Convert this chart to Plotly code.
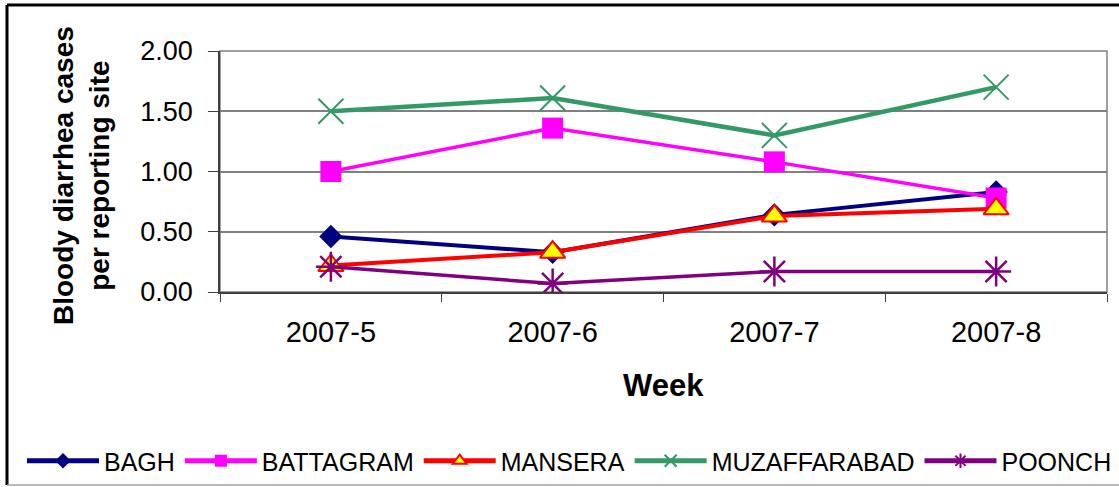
import plotly.graph_objects as go

weeks = ["2007-5", "2007-6", "2007-7", "2007-8"]
bagh = [0.46, 0.33, 0.64, 0.83]
battagram = [1.00, 1.36, 1.08, 0.78]
mansera = [0.22, 0.33, 0.63, 0.69]
muzaffarabad = [1.50, 1.61, 1.30, 1.70]
poonch = [0.21, 0.07, 0.17, 0.17]
y_ticks = [0, 0.5, 1.0, 1.5, 2.0]

FONT = "Liberation Sans, Arial, sans-serif"

fig = go.Figure()
fig.add_trace(go.Scatter(x=weeks, y=bagh, name="BAGH", mode="lines+markers",
                         line=dict(color="#000080", width=4),
                         marker=dict(symbol="diamond", size=18, color="#000080")))
fig.add_trace(go.Scatter(x=weeks, y=battagram, name="BATTAGRAM", mode="lines+markers",
                         line=dict(color="#FF00FF", width=3.5),
                         marker=dict(symbol="square", size=21, color="#FF00FF")))
fig.add_trace(go.Scatter(x=weeks, y=mansera, name="MANSERA", mode="lines+markers",
                         line=dict(color="#FF0000", width=4),
                         marker=dict(symbol="triangle-up", size=22, color="#FFFF00",
                                     line=dict(color="#FF0000", width=2))))
fig.add_trace(go.Scatter(x=weeks, y=muzaffarabad, name="MUZAFFARABAD", mode="lines+markers",
                         line=dict(color="#339966", width=4.5),
                         marker=dict(symbol="x-thin-open", size=25, color="#339966",
                                     line=dict(color="#339966", width=2))))
fig.add_trace(go.Scatter(x=weeks, y=poonch, name="POONCH", mode="lines+markers",
                         line=dict(color="#800080", width=3.5),
                         marker=dict(symbol="asterisk-open", size=25, color="#800080",
                                     line=dict(color="#800080", width=2.5))))

W, H = 1119, 487
L, R, T, B = 220, 12, 51, 195
pw = W - L - R
ph = H - T - B

def px(x):
    return (x - L) / pw

def py(y):
    return (H - B - y) / ph

fig.update_layout(
    width=W, height=H,
    margin=dict(l=L, r=R, t=T, b=B, autoexpand=False),
    paper_bgcolor="white", plot_bgcolor="white",
    font=dict(family=FONT, color="black"),
    hovermode=False,
    showlegend=True,
    legend=dict(orientation="h", x=px(22), xanchor="left", y=py(461), yanchor="middle",
                font=dict(size=25, family=FONT), itemwidth=72, tracegroupgap=0,
                itemsizing="constant", bgcolor="rgba(0,0,0,0)"),
    xaxis=dict(type="category", range=[-0.5, 3.5], showgrid=False,
               tickson="boundaries", ticks="outside", ticklen=8, tickcolor="#404040",
               showline=True, linecolor="#404040", linewidth=1.5,
               tickfont=dict(size=29, family=FONT), ticklabelstandoff=13),
    yaxis=dict(range=[0, 2], tickvals=y_ticks, tickformat=".2f",
               showgrid=True, gridcolor="#808080", gridwidth=1.5,
               ticks="outside", ticklen=10, tickcolor="#404040",
               showline=True, linecolor="#404040", linewidth=1.5, zeroline=False,
               tickfont=dict(size=27, family=FONT), ticklabelstandoff=10),
    shapes=[
        dict(type="rect", xref="paper", yref="paper", x0=0, x1=1, y0=0, y1=1,
             line=dict(color="#808080", width=1.5), layer="below"),
        dict(type="line", xref="paper", yref="paper", x0=px(7), x1=px(1125), y0=py(5), y1=py(5),
             line=dict(color="black", width=3)),
        dict(type="line", xref="paper", yref="paper", x0=px(7), x1=px(7), y0=py(5), y1=py(485),
             line=dict(color="black", width=3)),
        dict(type="line", xref="paper", yref="paper", x0=px(7), x1=px(1125), y0=py(485), y1=py(485),
             line=dict(color="#A0A0A0", width=1.5)),
    ],
    annotations=[
        dict(text="<b>Bloody diarrhea cases<br>per reporting site</b>", xref="paper", yref="paper",
             x=px(81), y=py(176), xanchor="center", yanchor="middle", textangle=-90,
             showarrow=False, font=dict(size=28, family=FONT)),
        dict(text="<b>Week</b>", xref="paper", yref="paper", x=px(663), y=py(385),
             xanchor="center", yanchor="middle", showarrow=False,
             font=dict(size=31, family=FONT)),
    ],
)

fig.write_html("out.html", config={"displayModeBar": False},
               post_script="document.body.style.margin='0px';")
